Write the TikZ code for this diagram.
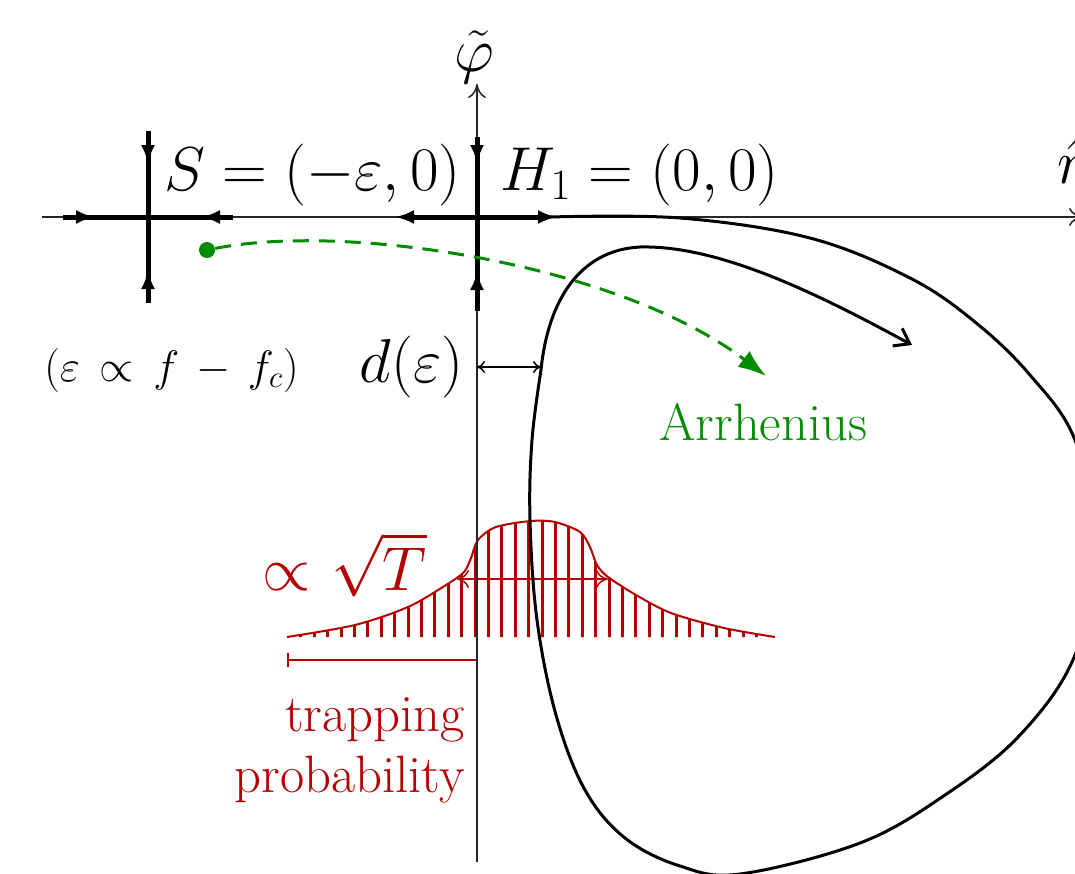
\RequirePackage{fix-cm}
\documentclass[tikz,border=0pt]{standalone}
\usepackage{amsmath}
\usetikzlibrary{arrows.meta}
\definecolor{dred}{RGB}{180,0,0}
\definecolor{dgreen}{RGB}{0,140,0}
\tikzset{
  bigmath/.style={font=\fontsize{31}{37}\selectfont, inner sep=0pt},
  smallmath/.style={font=\fontsize{22}{26}\selectfont, inner sep=0pt},
  lbltext/.style={font=\fontsize{26.3}{32}\selectfont, inner sep=0pt},
  axisline/.style={line width=0.75pt, black!85, -{To[length=7pt,width=9pt]}},
  sepline/.style={line width=2.5pt, black},
  fhead/.style={line width=2.5pt, -{Latex[length=9.5pt,width=7pt]}},
  orbit/.style={line width=1.5pt, black},
  hatch/.style={dred, line width=1.5pt},
  redcurve/.style={dred, line width=1pt},
}
\begin{document}
\begin{tikzpicture}[x=0.5pt,y=-0.5pt]
\useasboundingbox (0,0) rectangle (1075,873);

% ---------- red distribution ----------
\def\distpath{plot[smooth, tension=0.5] coordinates {(287,637) (355,625) (408,607) (446,585) (464,572) (471,558) (478,540) (496,527) (531,521) (555,522) (580,532) (590,547) (597,565) (608,577) (636,595) (671,613) (724,628) (775,637)}}
\begin{scope}
  \clip \distpath -- cycle;
  \foreach \k in {-14,...,22} {
    \draw[hatch] ({475+13.4*\k},640) -- ({475+13.4*\k},500);
  }
\end{scope}
\draw[redcurve] \distpath;
\coordinate (wl) at (457,579);
\coordinate (wr) at (608,579);
\draw[dred, line width=0.75pt, {To[length=6pt,width=9pt]}-{To[length=6pt,width=9pt]}] (wl) -- (wr);
\node[bigmath, dred, anchor=base west] (sqrtT) at (262,590) {$\propto\mkern1mu\sqrt{T}$};
\coordinate (bl) at (287,660);
\coordinate (br) at (477,660);
\draw[dred, line width=0.75pt, {Bar[width=7pt]}-{Bar[width=7pt]}] (bl) -- (br);
\node[lbltext, dred, anchor=base east] (trap) at (465,731) {trapping};
\node[lbltext, dred, anchor=base east] (prob) at (465,792) {probability};

% ---------- axes ----------
\coordinate (xl) at (42,217);
\coordinate (xr) at (1083,217);
\coordinate (yb) at (477,862);
\coordinate (yt) at (477,84);
\draw[axisline] (xl) -- (xr);
\draw[axisline] (yb) -- (yt);
\node[bigmath] (phi) at (474,57) {$\tilde{\varphi}$};
\node[bigmath, anchor=base west] (rhat) at (1057,183) {$\hat{r}$};

% ---------- fixed points ----------
\coordinate (S) at (148,217);
\coordinate (H) at (477,217);
% S
\draw[sepline] (63,217) -- (233,217);
\draw[sepline] (148,131) -- (148,303);
\draw[fhead] (63,217) -- (95,217);
\draw[fhead] (233,217) -- (201,217);
\draw[fhead] (148,131) -- (148,164);
\draw[fhead] (148,303) -- (148,270);
% H1
\draw[sepline] (477,137) -- (477,311);
\draw[fhead] (477,137) -- (477,164);
\draw[fhead] (477,311) -- (477,271);
\draw[fhead] (H) -- (395,217);
\draw[fhead] (H) -- (557,217);

\node[bigmath, anchor=base west] (Slab) at (164,190) {$S=(-\varepsilon,0)$};
\node[bigmath, anchor=base west] (Hlab) at (500,190) {$H_1=(0,0)$};

% ---------- orbit ----------
\draw[orbit, -{Straight Barb[length=7pt,width=10pt]}] plot[smooth, tension=0.6] coordinates {(550,217) (680,218) (810,238) (910,278) (975,322) (1030,375) (1075,440) (1097,545) (1075,655) (1020,735) (945,795) (860,843) (740,874) (680,866) (625,838) (585,790) (556,715) (537,620) (530,520) (532,440) (541,370)}
  .. controls (548,300) and (580,250) .. (640,247)
  .. controls (720,245) and (820,295) .. (912,345);

% ---------- d(eps) ----------
\coordinate (dl) at (477,367);
\coordinate (dr) at (541,367);
\draw[line width=0.75pt, {To[length=4pt,width=6pt]}-{To[length=4pt,width=6pt]}] (dl) -- (dr);
\node[bigmath, anchor=base east] (dlab) at (464,382) {$d(\varepsilon)$};
\node[smallmath, anchor=base west] (epslab) at (44,381) {$(\varepsilon\,\propto\,f\,-\,f_c)$};

% ---------- Arrhenius ----------
\node[circle, fill=dgreen, minimum size=8pt, inner sep=0pt] (dot) at (207,250) {};
\coordinate (aend) at (766,376);
\draw[dgreen, line width=1.5pt, dash pattern=on 8pt off 5pt, -{Latex[length=14pt,width=10pt]}] (dot) .. controls (350,222) and (620,265) .. (aend);
\node[lbltext, dgreen, anchor=base west] (arr) at (659,440) {Arrhenius};
\end{tikzpicture}
\end{document}
